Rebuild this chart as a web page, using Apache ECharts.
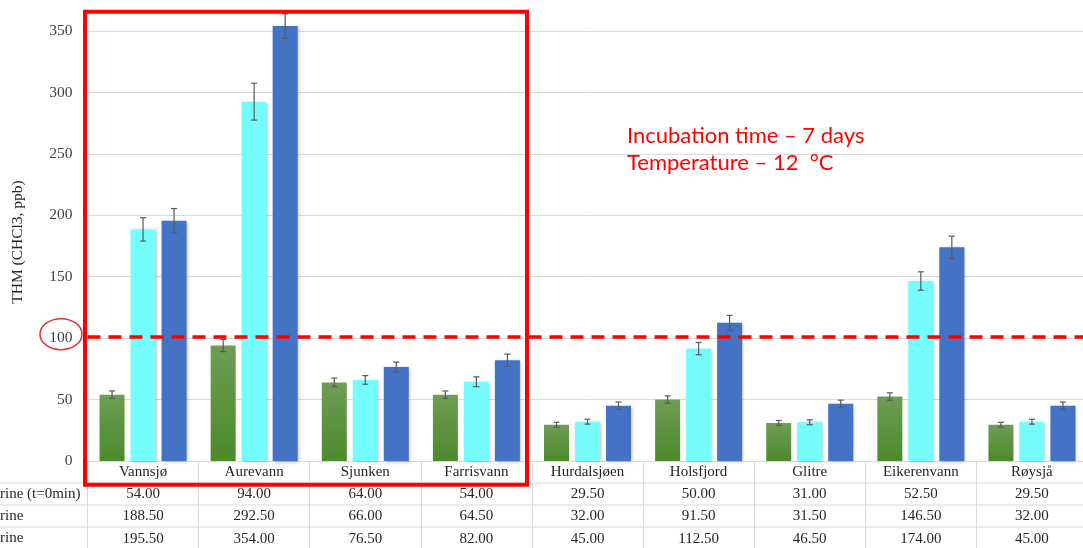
<!DOCTYPE html>
<html>
<head>
<meta charset="utf-8">
<script src="https://cdn.jsdelivr.net/npm/echarts@6/dist/echarts.min.js"></script>
<style>
  html, body { margin: 0; padding: 0; background: #fff; }
  #chart { width: 1083px; height: 548px; }
</style>
</head>
<body>
<div id="chart"></div>
<script>
// lakes
const categories = ['Vannsjø', 'Aurevann', 'Sjunken', 'Farrisvann', 'Hurdalsjøen', 'Holsfjord', 'Glitre', 'Eikerenvann', 'Røysjå'];
// table row labels (cut off at the left edge in the original)
const rowLabels = ['rine (t=0min)', 'rine', 'rine'];
// THM values, ppb
const valuesT0 = [54, 94, 64, 54, 29.5, 50, 31, 52.5, 29.5];
const valuesB = [188.5, 292.5, 66, 64.5, 32, 91.5, 31.5, 146.5, 32];
const valuesC = [195.5, 354, 76.5, 82, 45, 112.5, 46.5, 174, 45];
// error bar half-widths
const errT0 = [3, 5, 3.5, 3, 2, 3, 2, 3, 2];
const errB = [9.5, 15, 3.5, 4, 2, 5, 2, 7.5, 2];
const errC = [10, 10, 4, 5, 3, 6, 3, 9, 3];
// y axis
const yMin = 0;
const yMax = 400;
const yStep = 50;
// limit line + annotation
const limitValue = 101;
const circledTick = 100;
const noteLines = ['Incubation time – 7 days', 'Temperature – 12  °C'];

const myChart = echarts.init(document.getElementById('chart'));

const barW = 25;
const barStep = 31; // bar width + gap, px
const serifFont = '"Liberation Serif", "DejaVu Serif", serif';
const seriesData = [valuesT0, valuesB, valuesC];
const errData = [errT0, errB, errC];
const colors = [
  new echarts.graphic.LinearGradient(0, 0, 0, 1, [
    { offset: 0, color: '#6e9d55' },
    { offset: 1, color: '#4c8a2a' }
  ]),
  '#75fcfd',
  '#4472c4'
];

const barSeries = seriesData.map((vals, k) => ({
  name: rowLabels[k],
  type: 'bar',
  barWidth: barW,
  barGap: ((barStep - barW) / barW * 100) + '%',
  data: vals,
  itemStyle: {
    color: colors[k],
    shadowColor: 'rgba(0,0,0,0.28)',
    shadowBlur: 3,
    shadowOffsetX: 1,
    shadowOffsetY: 1
  },
  markLine: k === 0 ? {
    silent: true,
    symbol: 'none',
    label: { show: false },
    lineStyle: { color: '#ff0000', width: 3.5, type: [13, 8] },
    data: [{ yAxis: limitValue }]
  } : undefined,
  z: 2
}));

const errSeries = seriesData.map((vals, k) => ({
  type: 'custom',
  silent: true,
  z: 5,
  clip: false,
  data: vals.map((v, i) => [i, v, errData[k][i]]),
  renderItem (params, api) {
    const i = api.value(0)
    const v = api.value(1)
    const e = api.value(2)
    const top = api.coord([i, v + e])
    const bot = api.coord([i, v - e])
    const x = top[0] + (k - 1) * barStep
    const cap = 3
    const style = { stroke: '#595959', lineWidth: 1.2 }
    return {
      type: 'group',
      children: [
        { type: 'line', shape: { x1: x, y1: top[1], x2: x, y2: bot[1] }, style },
        { type: 'line', shape: { x1: x - cap, y1: top[1], x2: x + cap, y2: top[1] }, style },
        { type: 'line', shape: { x1: x - cap, y1: bot[1], x2: x + cap, y2: bot[1] }, style }
      ]
    }
  }
}));

const options = {
  animation: false,
  grid: {
    left: 87.5,
    right: -4.5,
    top: -30.4,
    bottom: 87,
    outerBoundsMode: 'none'
  },
  xAxis: {
    type: 'category',
    data: categories,
    axisLine: { lineStyle: { color: '#d9d9d9', width: 1 } },
    axisTick: {
      show: true,
      interval: 0,
      length: 90,
      lineStyle: { color: '#d9d9d9', width: 1 }
    },
    axisLabel: {
      interval: 0,
      margin: 0,
      fontFamily: serifFont,
      fontSize: 15,
      color: '#262626',
      lineHeight: 22.2,
      formatter: (v, i) => [v, valuesT0[i].toFixed(2), valuesB[i].toFixed(2), valuesC[i].toFixed(2)].join('\n')
    }
  },
  yAxis: {
    type: 'value',
    min: yMin,
    max: yMax,
    interval: yStep,
    axisLine: { show: false },
    axisTick: { show: false },
    splitLine: { lineStyle: { color: '#d9d9d9', width: 1 } },
    axisLabel: {
      margin: 15,
      fontFamily: serifFont,
      fontSize: 15.5,
      color: '#404040'
    }
  },
  series: barSeries.concat(errSeries)
};

myChart.setOption(options);

// table row lines, row labels, annotations
const W = myChart.getWidth();
const rowY = [483, 505, 527];
const graphics = [];
rowY.forEach((y, r) => {
  graphics.push({
    type: 'line',
    shape: { x1: 0, y1: y, x2: W, y2: y },
    style: { stroke: '#d9d9d9', lineWidth: 1 },
    silent: true
  });
  graphics.push({
    type: 'text',
    x: 0,
    y: y + 11.5,
    style: {
      text: rowLabels[r],
      font: '15px ' + serifFont,
      fill: '#262626',
      textVerticalAlign: 'middle'
    },
    silent: true
  });
});

const y100 = myChart.convertToPixel({ yAxisIndex: 0 }, circledTick);
graphics.push({
  type: 'ellipse',
  shape: { cx: 61, cy: y100 - 4, rx: 21, ry: 15.5 },
  style: { fill: 'none', stroke: '#e8312f', lineWidth: 1.5 },
  silent: true
});
graphics.push({
  type: 'rect',
  shape: { x: 85, y: 11.7, width: 442, height: 473 },
  style: { fill: 'none', stroke: '#ff0000', lineWidth: 4 },
  silent: true,
  z: 10
});
graphics.push({
  type: 'text',
  x: 18,
  y: 242,
  rotation: Math.PI / 2,
  style: {
    text: 'THM (CHCl3, ppb)',
    font: '15.5px ' + serifFont,
    fill: '#262626',
    textAlign: 'center',
    textVerticalAlign: 'middle'
  },
  silent: true
});
noteLines.forEach((t, j) => {
  graphics.push({
    type: 'text',
    x: 627,
    y: 136 + j * 27,
    style: {
      text: t,
      font: '22px Lato, "Open Sans", sans-serif',
      fill: '#ff0000',
      textVerticalAlign: 'middle'
    },
    silent: true
  });
});

myChart.setOption({ graphic: graphics });
</script>
</body>
</html>
